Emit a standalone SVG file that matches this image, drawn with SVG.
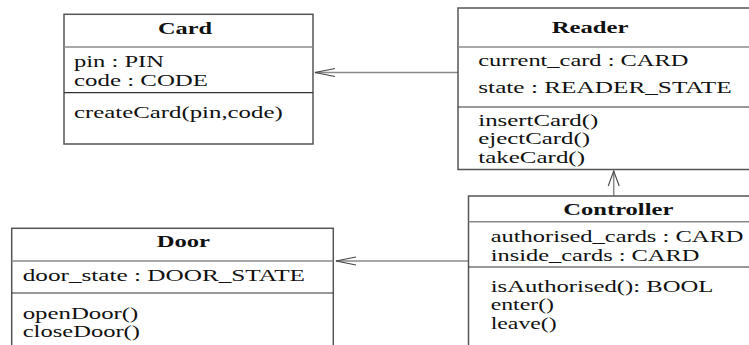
<svg xmlns="http://www.w3.org/2000/svg" width="749" height="345" viewBox="0 0 749 345">
<style>
.box{fill:#fff;stroke:#555;stroke-width:1.5}
.hd{stroke:#8a8a8a;stroke-width:1.5}
.ad{stroke:#333;stroke-width:1.2}
.t{font-family:"Liberation Serif","Times New Roman",serif;font-size:16px;fill:#111}
.b{font-weight:bold}
.c{fill:none;stroke:#8a8a8a;stroke-width:1.5}
.ah{fill:none;stroke:#444;stroke-width:1.1}
</style>
<defs>
<marker id="arrH" markerUnits="userSpaceOnUse" markerWidth="30" markerHeight="30" viewBox="-25 -15 30 30" refX="0" refY="0" orient="auto" overflow="visible">
<path class="ah" d="M-20,-4 L0,0 L-20,4"/>
</marker>
<marker id="arrV" markerUnits="userSpaceOnUse" markerWidth="30" markerHeight="30" viewBox="-25 -15 30 30" refX="0" refY="0" orient="auto" overflow="visible">
<path class="ah" d="M-15,-5.5 L0,0 L-15,5.5"/>
</marker>
</defs>
<rect width="749" height="345" fill="#fff"/>
<g id="connectors">
<line class="c" x1="458" y1="72.5" x2="315" y2="72.5" marker-end="url(#arrH)"/>
<line class="c" x1="613.7" y1="196" x2="613.7" y2="171" marker-end="url(#arrV)"/>
<line class="c" x1="468.5" y1="261" x2="336" y2="261" marker-end="url(#arrH)"/>
</g>
<g id="card">
<rect class="box" x="64" y="14.3" width="249" height="129.7"/>
<line class="hd" x1="64" y1="47" x2="313" y2="47"/>
<line class="ad" x1="64" y1="92.7" x2="313" y2="92.7"/>
<text class="t b" x="158" y="34" textLength="54" lengthAdjust="spacingAndGlyphs">Card</text>
<text class="t" x="74" y="66.7" textLength="90" lengthAdjust="spacingAndGlyphs">pin : PIN</text>
<text class="t" x="74" y="85.7" textLength="134" lengthAdjust="spacingAndGlyphs">code : CODE</text>
<text class="t" x="74" y="118" textLength="208.7" lengthAdjust="spacingAndGlyphs">createCard(pin,code)</text>
</g>
<g id="reader">
<rect class="box" x="458" y="8" width="310" height="161.5"/>
<line class="hd" x1="458" y1="47" x2="768" y2="47"/>
<line class="ad" x1="458" y1="107" x2="768" y2="107"/>
<text class="t b" x="551.7" y="33.3" textLength="76.7" lengthAdjust="spacingAndGlyphs">Reader</text>
<text class="t" x="478.3" y="65.7" textLength="210" lengthAdjust="spacingAndGlyphs">current_card : CARD</text>
<text class="t" x="478.3" y="92.7" textLength="253.3" lengthAdjust="spacingAndGlyphs">state : READER_STATE</text>
<text class="t" x="478.3" y="125.5" textLength="120" lengthAdjust="spacingAndGlyphs">insertCard()</text>
<text class="t" x="478.3" y="144.3" textLength="111.7" lengthAdjust="spacingAndGlyphs">ejectCard()</text>
<text class="t" x="478.3" y="163.3" textLength="106.7" lengthAdjust="spacingAndGlyphs">takeCard()</text>
</g>
<g id="controller">
<rect class="box" x="468.5" y="196" width="310" height="170"/>
<line class="hd" x1="468.5" y1="221.7" x2="778" y2="221.7"/>
<line class="ad" x1="468.5" y1="267" x2="778" y2="267"/>
<text class="t b" x="563.3" y="215" textLength="110" lengthAdjust="spacingAndGlyphs">Controller</text>
<text class="t" x="490.7" y="242.3" textLength="252.7" lengthAdjust="spacingAndGlyphs">authorised_cards : CARD</text>
<text class="t" x="490.7" y="260.7" textLength="208.7" lengthAdjust="spacingAndGlyphs">inside_cards : CARD</text>
<text class="t" x="490.7" y="291.7" textLength="222.7" lengthAdjust="spacingAndGlyphs">isAuthorised(): BOOL</text>
<text class="t" x="490.7" y="310" textLength="63.3" lengthAdjust="spacingAndGlyphs">enter()</text>
<text class="t" x="490.7" y="329" textLength="66" lengthAdjust="spacingAndGlyphs">leave()</text>
</g>
<g id="door">
<rect class="box" x="11.7" y="228.3" width="321.6" height="140"/>
<line class="hd" x1="11.7" y1="261" x2="333.3" y2="261"/>
<line class="ad" x1="11.7" y1="293" x2="333.3" y2="293"/>
<text class="t b" x="156.7" y="246.7" textLength="53.3" lengthAdjust="spacingAndGlyphs">Door</text>
<text class="t" x="22.7" y="280.7" textLength="282.3" lengthAdjust="spacingAndGlyphs">door_state : DOOR_STATE</text>
<text class="t" x="22.7" y="319.3" textLength="115.7" lengthAdjust="spacingAndGlyphs">openDoor()</text>
<text class="t" x="22.7" y="336.7" textLength="117.3" lengthAdjust="spacingAndGlyphs">closeDoor()</text>
</g>
</svg>
